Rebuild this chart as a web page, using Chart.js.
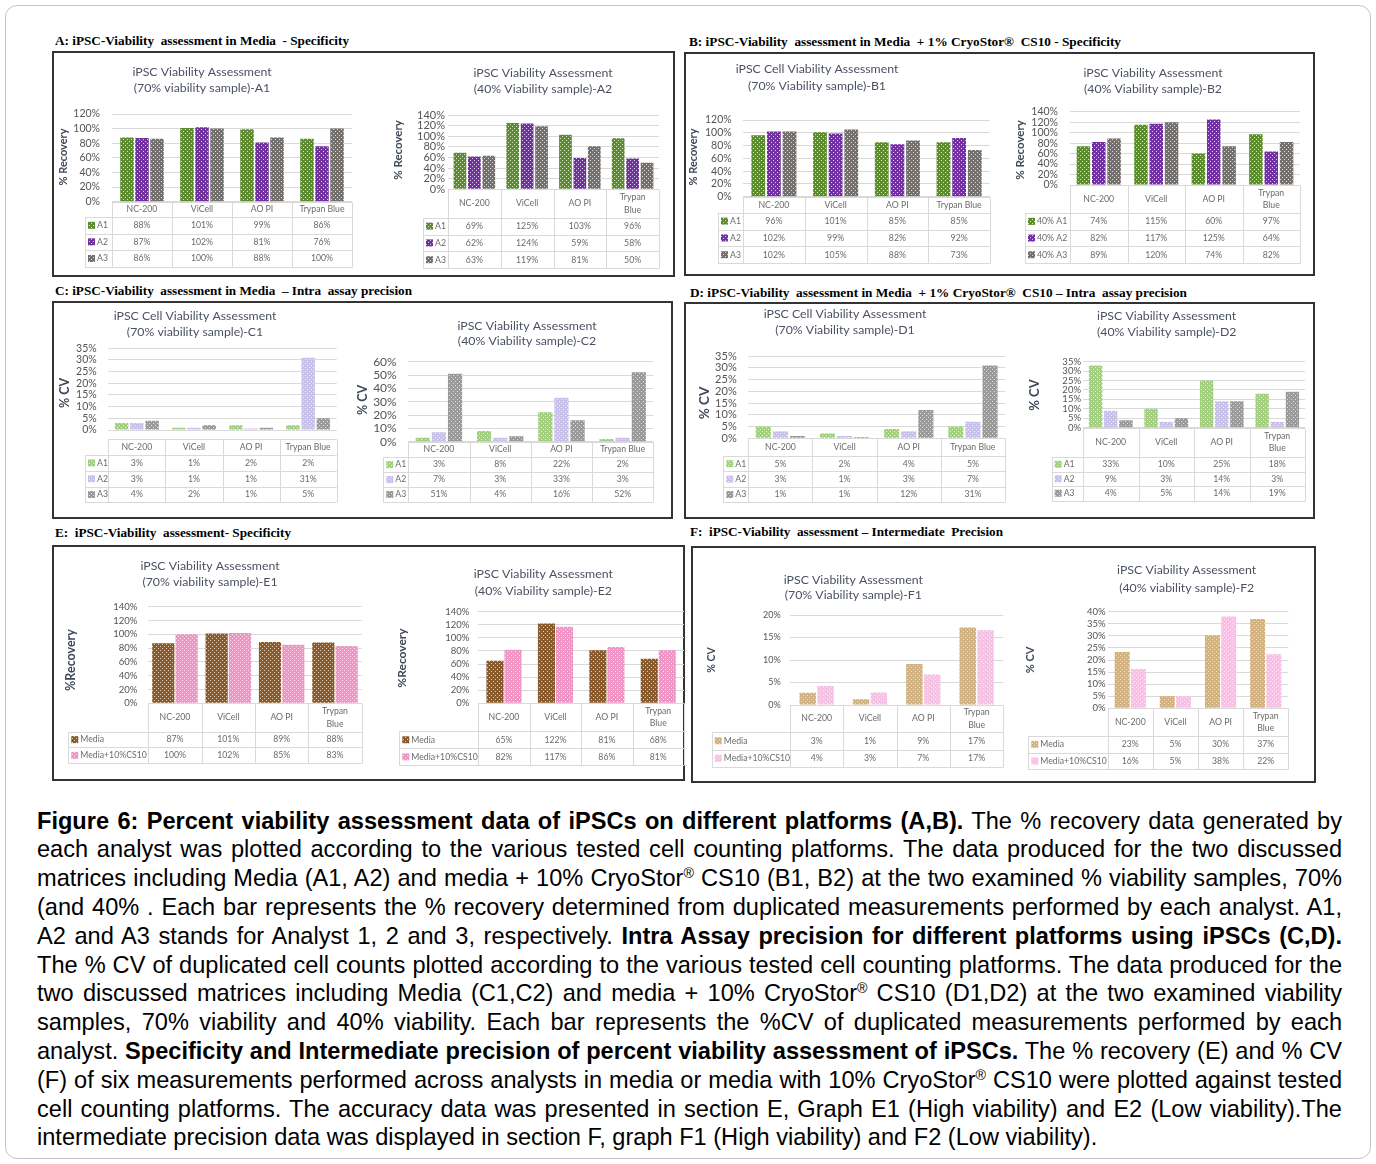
<!DOCTYPE html>
<html><head><meta charset="utf-8">
<script src="https://cdn.jsdelivr.net/npm/chart.js@4.4.1/dist/chart.umd.min.js"></script>
<style>
html,body{margin:0;padding:0;background:#fff;}
body{width:1376px;height:1164px;position:relative;overflow:hidden;font-family:"Liberation Sans",Arial,sans-serif;}
.frame{position:absolute;left:5px;top:5px;width:1364px;height:1152px;border:1px solid #c4c4c4;border-radius:12px;}
.head{position:absolute;font-family:"Liberation Serif","Times New Roman",serif;font-weight:bold;font-size:13px;white-space:pre;color:#000;transform-origin:0 50%;line-height:14px;}
.panel{position:absolute;border:2px solid #333;box-sizing:border-box;}
canvas{position:absolute;}
.cap{position:absolute;left:37px;width:1305px;line-height:28.8px;text-align:justify;text-align-last:justify;color:#000;}
.cap.last{text-align-last:left;}
.cap sup{font-size:0.6em;line-height:0;vertical-align:0.6em;}
.meas{position:absolute;left:0;top:-200px;white-space:nowrap;visibility:hidden;}
</style>
</head><body>
<div class="frame"></div>
<script>
// ---------------- DATA ----------------
const categories = ["NC-200", "ViCell", "AO PI", "Trypan Blue"];
const analysts = ["A1", "A2", "A3"];
const analystsB2 = ["40% A1", "40% A2", "40% A3"];
const matrices = ["Media", "Media+10%CS10"];

// A: Media - Specificity (% recovery)
const A1_a1 = [88, 101, 99, 86];
const A1_a2 = [87, 102, 81, 76];
const A1_a3 = [86, 100, 88, 100];
const A2_a1 = [69, 125, 103, 96];
const A2_a2 = [62, 124, 59, 58];
const A2_a3 = [63, 119, 81, 50];
// B: Media + CryoStor - Specificity
const B1_a1 = [96, 101, 85, 85];
const B1_a2 = [102, 99, 82, 92];
const B1_a3 = [102, 105, 88, 73];
const B2_a1 = [74, 115, 60, 97];
const B2_a2 = [82, 117, 125, 64];
const B2_a3 = [89, 120, 74, 82];
// C: Media - intra assay precision (% CV)
const C1_a1 = [3, 1, 2, 2];
const C1_a2 = [3, 1, 0.6, 31];
const C1_a3 = [4, 2, 1, 5];
const C2_a1 = [3, 8, 22, 2];
const C2_a2 = [7, 3, 33, 3];
const C2_a3 = [51, 4, 16, 52];
// D: Media + CryoStor - intra assay precision
const D1_a1 = [5, 2, 4, 5];
const D1_a2 = [3, 1, 3, 7];
const D1_a3 = [1, 0.6, 12, 31];
const D2_a1 = [33, 10, 25, 18];
const D2_a2 = [9, 3, 14, 3];
const D2_a3 = [4, 5, 14, 19];
// E: specificity across matrices
const E1_media = [87, 101, 89, 88];
const E1_cs10 = [100, 102, 85, 83];
const E2_media = [65, 122, 81, 68];
const E2_cs10 = [82, 117, 86, 81];
// F: intermediate precision
const F1_media = [2.7, 1.3, 9.1, 17.2];
const F1_cs10 = [4.2, 2.8, 6.8, 16.6];
const F2_media = [23.3, 5, 30.2, 37];
const F2_cs10 = [16.3, 5, 38, 22.4];

// y axis ranges
const yMax = {A1:120, A2:140, B1:120, B2:140, C1:35, C2:60, D1:35, D2:35, E1:140, E2:140, F1:20, F2:40};
const yStep = {A1:20, A2:20, B1:20, B2:20, C1:5, C2:10, D1:5, D2:5, E1:20, E2:20, F1:5, F2:5};

// ---------------- STYLE ----------------
function pat(base, dot){
  const c = document.createElement('canvas'); c.width = 4; c.height = 4;
  const x = c.getContext('2d');
  x.fillStyle = base; x.fillRect(0,0,4,4);
  x.fillStyle = dot; x.fillRect(1,1,1,1); x.fillRect(3,3,1,1);
  return x.createPattern(c, 'repeat');
}
const colAB = [pat('#5d8c2e','#d8e6c8'), pat('#7131a1','#dccbe8'), pat('#74706d','#dedcda')];
const colCD = [pat('#a3d07e','#e6f3dc'), pat('#c9c1ec','#eeebfa'), pat('#9b9a9a','#e2e2e2')];
const colE  = [pat('#8a5a2a','#e2cdb6'), pat('#f394c6','#fcd9eb')];
const colF  = [pat('#d3b282','#efe0c8'), pat('#f5c2e3','#fde6f4')];

const TITLE_C = '#4a5160', YLAB_C = '#3e4858', TICK_C = '#555555', TBL_C = '#6b6b6b', GRID_C = '#d9d9d9';

// ---------------- PANELS & HEADINGS ----------------
const panels = [[52,51,675,277],[684,52,1315,276],[52,301,673,519],[684,302,1315,519],[52,545,685,781],[691,546,1316,783]];
panels.forEach(p=>{
  const d = document.createElement('div'); d.className='panel';
  d.style.left=p[0]+'px'; d.style.top=p[1]+'px'; d.style.width=(p[2]-p[0])+'px'; d.style.height=(p[3]-p[1])+'px';
  document.body.appendChild(d);
});
const heads = [
  ['A: iPSC-Viability  assessment in Media  - Specificity', 55, 40.5, 294],
  ['B: iPSC-Viability  assessment in Media  + 1% CryoStor®  CS10 - Specificity', 689, 42, 432],
  ['C: iPSC-Viability  assessment in Media  – Intra  assay precision', 55, 291, 357],
  ['D: iPSC-Viability  assessment in Media  + 1% CryoStor®  CS10 – Intra  assay precision', 690, 293, 497],
  ['E:  iPSC-Viability  assessment- Specificity', 55, 533, 236],
  ['F:  iPSC-Viability  assessment – Intermediate  Precision', 690, 532, 313]
];
heads.forEach(h=>{
  const d = document.createElement('div'); d.className='head'; d.textContent=h[0];
  d.style.left=h[1]+'px'; d.style.top=(h[2]-7)+'px';
  document.body.appendChild(d);
  const w = d.getBoundingClientRect().width;
  d.style.transform = 'scaleX(' + (h[3]/w) + ')';
});

// ---------------- CHARTS ----------------
const specs = [
 {id:'A1', title:['iPSC Viability Assessment','(70% viability sample)-A1'], ylab:'% Recovery', labels:analysts, series:[A1_a1,A1_a2,A1_a3], colors:colAB,
  g:{legL:85, plotL:112, plotR:352, plotT:114, plotB:201.7, tableTop:201.7, headH:15.3, rowH:16.6, tX:202, tY1:72.5, tY2:88.5, yX:63, yY:157, ys:11, tickR:100, tick:10.5, cat:0.75, bar:0.9, wrap:false}},
 {id:'A2', title:['iPSC Viability Assessment','(40% Viability sample)-A2'], ylab:'% Recovery', labels:analysts, series:[A2_a1,A2_a2,A2_a3], colors:colAB,
  g:{legL:423, plotL:448, plotR:659, plotT:115, plotB:189.3, tableTop:189.3, headH:28.4, rowH:16.8, tX:543, tY1:73.5, tY2:89, yX:398, yY:150, ys:11.5, tickR:445, tick:11, cat:0.82, bar:0.88, wrap:true}},
 {id:'B1', title:['iPSC Cell Viability Assessment','(70% Viability sample)-B1'], ylab:'% Recovery', labels:analysts, series:[B1_a1,B1_a2,B1_a3], colors:colAB,
  g:{legL:718, plotL:743, plotR:990, plotT:120, plotB:196.7, tableTop:196.7, headH:16, rowH:16.8, tX:817, tY1:69.5, tY2:86, yX:693, yY:157, ys:11, tickR:731.7, tick:10.5, cat:0.76, bar:0.88, wrap:false}},
 {id:'B2', title:['iPSC Viability Assessment','(40% Viability sample)-B2'], ylab:'% Recovery', labels:analystsB2, series:[B2_a1,B2_a2,B2_a3], colors:colAB,
  g:{legL:1025, plotL:1070, plotR:1300, plotT:111.7, plotB:185, tableTop:185, headH:28, rowH:16.7, tX:1153, tY1:72.7, tY2:89.3, yX:1020, yY:150, ys:11.5, tickR:1058, tick:10.5, cat:0.8, bar:0.88, wrap:true}},
 {id:'C1', title:['iPSC Cell Viability Assessment','(70% viability sample)-C1'], ylab:'% CV', labels:analysts, series:[C1_a1,C1_a2,C1_a3], colors:colCD,
  g:{legL:85, plotL:108.3, plotR:336.7, plotT:348.3, plotB:430, tableTop:439, headH:16, rowH:15.8, tX:195, tY1:316, tY2:332.3, yX:65, yY:393, ys:12.5, tickR:96.7, tick:10.5, cat:0.8, bar:0.88, wrap:false}},
 {id:'C2', title:['iPSC Viability Assessment','(40% Viability sample)-C2'], ylab:'% CV', labels:analysts, series:[C2_a1,C2_a2,C2_a3], colors:colCD,
  g:{legL:383.3, plotL:408.3, plotR:653.3, plotT:361.7, plotB:441.7, tableTop:441.7, headH:15.5, rowH:14.9, tX:527, tY1:326, tY2:341, yX:363, yY:400, ys:12.5, tickR:396.7, tick:12, cat:0.79, bar:0.88, wrap:false}},
 {id:'D1', title:['iPSC Cell Viability Assessment','(70% Viability sample)-D1'], ylab:'% CV', labels:analysts, series:[D1_a1,D1_a2,D1_a3], colors:colCD,
  g:{legL:723.3, plotL:748.3, plotR:1005, plotT:356, plotB:438.3, tableTop:438.3, headH:17.7, rowH:15.4, tX:845, tY1:314.3, tY2:330, yX:704.3, yY:403, ys:13.5, tickR:736.7, tick:11, cat:0.8, bar:0.88, wrap:false}},
 {id:'D2', title:['iPSC Viability Assessment','(40% Viability sample)-D2'], ylab:'% CV', labels:analysts, series:[D2_a1,D2_a2,D2_a3], colors:colCD,
  g:{legL:1051.7, plotL:1083, plotR:1305, plotT:361.7, plotB:427.7, tableTop:427.7, headH:29.3, rowH:14.5, tX:1166.7, tY1:316, tY2:331.7, yX:1035, yY:395, ys:13, tickR:1081, tick:9.5, cat:0.82, bar:0.88, wrap:true}},
 {id:'E1', title:['iPSC Viability Assessment','(70% viability sample)-E1'], ylab:'%Recovery', labels:matrices, series:[E1_media,E1_cs10], colors:colE,
  g:{legL:68.3, plotL:148.3, plotR:361.7, plotT:606.7, plotB:703.3, tableTop:703.3, headH:28.4, rowH:15.8, tX:210, tY1:565.7, tY2:582.3, yX:70.7, yY:660, ys:12.5, tickR:137.3, tick:9.5, cat:0.875, bar:0.95, wrap:true}},
 {id:'E2', title:['iPSC Viability Assessment','(40% Viability sample)-E2'], ylab:'%Recovery', labels:matrices, series:[E2_media,E2_cs10], colors:colE,
  g:{legL:399.3, plotL:478.3, plotR:684, plotT:611.7, plotB:703.3, tableTop:703.3, headH:28, rowH:17, tX:543.3, tY1:574.3, tY2:591, yX:401.7, yY:658, ys:12, tickR:469.3, tick:9.5, cat:0.7, bar:0.95, wrap:true}},
 {id:'F1', title:['iPSC Viability Assessment','(70% Viability sample)-F1'], ylab:'% CV', labels:matrices, series:[F1_media,F1_cs10], colors:colF,
  g:{legL:711.7, plotL:790, plotR:1003.3, plotT:615, plotB:705, tableTop:705, headH:27, rowH:17.5, tX:853.3, tY1:580, tY2:595, yX:711.7, yY:660, ys:10.5, tickR:780.7, tick:9, cat:0.67, bar:0.92, wrap:true}},
 {id:'F2', title:['iPSC Viability Assessment','(40% viability sample)-F2'], ylab:'% CV', labels:matrices, series:[F2_media,F2_cs10], colors:colF,
  g:{legL:1028.3, plotL:1107.7, plotR:1288.3, plotT:611.7, plotB:708.3, tableTop:708.3, headH:27.7, rowH:16.7, tX:1186.7, tY1:570, tY2:587.7, yX:1030, yY:660, ys:11, tickR:1105.7, tick:9.5, cat:0.72, bar:0.92, wrap:true}}
];

function tablePlugin(s, ox, oy){
  const g = s.g;
  return {
    id:'tbl'+s.id,
    afterDraw(chart){
      const ctx = chart.ctx, ca = chart.chartArea, xs = chart.scales.x;
      const px = v => v - ox, py = v => v - oy;
      ctx.save();
      // title
      ctx.fillStyle = TITLE_C; ctx.textAlign = 'center'; ctx.textBaseline = 'middle';
      ctx.font = '12.3px Lato';
      ctx.fillText(s.title[0], px(g.tX), py(g.tY1));
      ctx.fillText(s.title[1], px(g.tX), py(g.tY2));
      // y label
      ctx.save();
      ctx.translate(px(g.yX), py(g.yY)); ctx.rotate(-Math.PI/2);
      ctx.font = 'bold ' + g.ys + 'px Lato'; ctx.fillStyle = YLAB_C;
      ctx.fillText(s.ylab, 0, 0);
      ctx.restore();
      // data table
      const n = chart.data.labels.length;
      const cw = (ca.right - ca.left) / n;
      const tTop = py(g.tableTop), hB = tTop + g.headH;
      const rows = chart.data.datasets.length;
      const tBot = hB + rows * g.rowH;
      const lx = px(g.legL);
      const r5 = v => Math.round(v) + 0.5;
      ctx.strokeStyle = GRID_C; ctx.lineWidth = 1;
      ctx.beginPath();
      ctx.moveTo(ca.left, r5(tTop)); ctx.lineTo(ca.right, r5(tTop));
      for (let r = 0; r <= rows; r++){ const y = r5(hB + r*g.rowH); ctx.moveTo(lx, y); ctx.lineTo(ca.right, y); }
      for (let i = 0; i <= n; i++){ const x = r5(ca.left + i*cw); ctx.moveTo(x, r5(tTop)); ctx.lineTo(x, r5(tBot)); }
      ctx.moveTo(r5(lx), r5(hB)); ctx.lineTo(r5(lx), r5(tBot));
      ctx.stroke();
      ctx.font = '8.7px Lato'; ctx.fillStyle = TBL_C; ctx.textAlign = 'center';
      chart.data.labels.forEach((lab, i) => {
        const cx = xs.getPixelForValue(i);
        const lines = (g.wrap && lab.indexOf(' ') > 0 && lab !== 'AO PI') ? lab.split(' ') : [lab];
        const lh = 12.5;
        lines.forEach((t, k) => ctx.fillText(t, cx, (tTop + hB)/2 + (k - (lines.length-1)/2)*lh));
      });
      chart.data.datasets.forEach((ds, r) => {
        const cy = hB + (r + 0.5) * g.rowH;
        ctx.fillStyle = ds.backgroundColor;
        ctx.fillRect(lx + 3, cy - 3.5, 7, 7);
        ctx.fillStyle = TBL_C; ctx.textAlign = 'left';
        ctx.fillText(ds.label, lx + 12, cy);
        ctx.textAlign = 'center';
        ds.data.forEach((v, i) => ctx.fillText(Math.round(v) + '%', xs.getPixelForValue(i), cy));
      });
      ctx.restore();
    }
  };
}

specs.forEach(s => {
  const g = s.g;
  const tableBot = g.tableTop + g.headH + s.series.length * g.rowH;
  const cx = Math.floor(Math.min(g.legL, g.yX - 9)) - 2;
  const cy = Math.floor(g.tY1 - 12);
  const cr = Math.ceil(g.plotR + 4);
  const cb = Math.ceil(tableBot + 3);
  const cv = document.createElement('canvas');
  cv.width = cr - cx; cv.height = cb - cy;
  cv.style.left = cx + 'px'; cv.style.top = cy + 'px';
  cv.style.width = (cr - cx) + 'px'; cv.style.height = (cb - cy) + 'px';
  document.body.appendChild(cv);
  new Chart(cv, {
    type: 'bar',
    data: {
      labels: categories,
      datasets: s.series.map((d, i) => ({label: s.labels[i], data: d, backgroundColor: s.colors[i], borderWidth: 0,
        categoryPercentage: g.cat, barPercentage: g.bar}))
    },
    options: {
      responsive: false, animation: false, devicePixelRatio: 1, events: [],
      layout: {padding: {left: 0, top: g.plotT - cy, right: cr - g.plotR, bottom: cb - g.plotB}},
      plugins: {legend: {display: false}, tooltip: {enabled: false}, title: {display: false}},
      scales: {
        x: {display: false},
        y: {min: 0, max: yMax[s.id],
            ticks: {stepSize: yStep[s.id], autoSkip: false, padding: g.plotL - g.tickR, color: TICK_C,
                    font: {family: 'Lato', size: g.tick}, callback: v => v + '%'},
            grid: {color: GRID_C, drawTicks: false}, border: {display: false},
            afterFit: sc => { sc.width = g.plotL - cx; }}
      }
    },
    plugins: [tablePlugin(s, cx, cy)]
  });
});

// ---------------- CAPTION ----------------
const capLines = [
 '<b>Figure 6: Percent viability assessment data of iPSCs on different platforms (A,B).</b> The % recovery data generated by',
 'each analyst was plotted according to the various tested cell counting platforms. The data produced for the two discussed',
 'matrices including Media (A1, A2) and media + 10% CryoStor<sup>®</sup> CS10 (B1, B2) at the two examined % viability samples, 70%',
 '(and 40% . Each bar represents the % recovery determined from duplicated measurements performed by each analyst. A1,',
 'A2 and A3 stands for Analyst 1, 2 and 3, respectively. <b>Intra Assay precision for different platforms using iPSCs (C,D).</b>',
 'The % CV of duplicated cell counts plotted according to the various tested cell counting platforms. The data produced for the',
 'two discussed matrices including Media (C1,C2) and media + 10% CryoStor<sup>®</sup> CS10 (D1,D2) at the two examined viability',
 'samples, 70% viability and 40% viability. Each bar represents the %CV of duplicated measurements performed by each',
 'analyst. <b>Specificity and Intermediate precision of percent viability assessment of iPSCs.</b> The % recovery (E) and % CV',
 '(F) of six measurements performed across analysts in media or media with 10% CryoStor<sup>®</sup> CS10 were plotted against tested',
 'cell counting platforms. The accuracy data was presented in section E, Graph E1 (High viability) and E2 (Low viability).The',
 'intermediate precision data was displayed in section F, graph F1 (High viability) and F2 (Low viability).'
];
(function(){
  const m = document.createElement('span'); m.className = 'meas'; m.style.fontSize = '22px';
  document.body.appendChild(m);
  m.innerHTML = capLines[capLines.length-1];
  let fs = 22 * 1100 / m.getBoundingClientRect().width;
  let maxW = 0;
  m.style.fontSize = fs + 'px';
  capLines.forEach(l => { m.innerHTML = l; maxW = Math.max(maxW, m.getBoundingClientRect().width); });
  if (maxW > 1302) fs = fs * 1302 / maxW;
  m.remove();
  capLines.forEach((l, i) => {
    const d = document.createElement('div');
    d.className = 'cap' + (i === capLines.length-1 ? ' last' : '');
    d.style.fontSize = fs + 'px';
    d.style.top = (806.6 + i*28.8) + 'px';
    d.innerHTML = l;
    document.body.appendChild(d);
  });
})();
</script>
</body></html>
